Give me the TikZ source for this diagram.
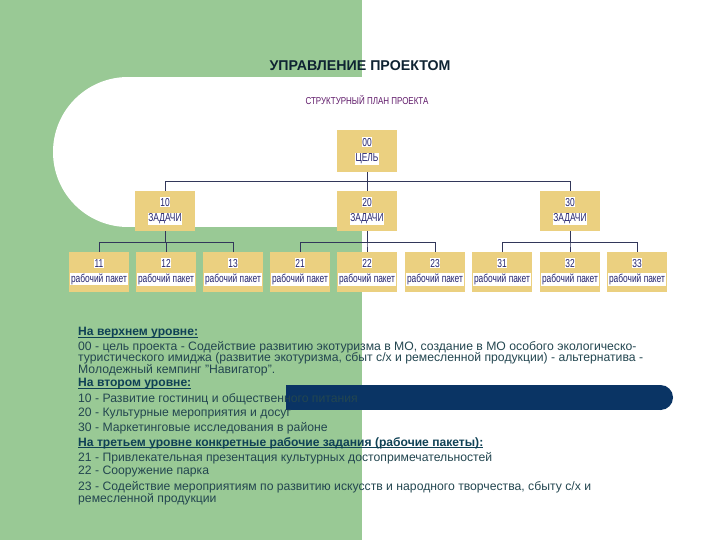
\documentclass[tikz,border=0pt]{standalone}
\usepackage{fontspec}
\setmainfont{Liberation Sans}
\newfontfamily\condfont[FakeStretch=0.73]{Liberation Sans}
\newfontfamily\subfont[FakeStretch=0.8]{Liberation Sans}
\definecolor{bggreen}{RGB}{153,201,149}
\definecolor{barnavy}{RGB}{10,52,100}
\definecolor{boxfill}{RGB}{235,208,128}
\definecolor{boxtext}{RGB}{35,35,110}
\definecolor{titlec}{RGB}{15,35,50}
\definecolor{subc}{RGB}{95,25,105}
\definecolor{bodyc}{RGB}{35,70,80}
\definecolor{headc}{RGB}{15,65,85}
\definecolor{linec}{RGB}{50,55,90}
\tikzset{
  wbs/.style={fill=boxfill, minimum width=60pt, minimum height=40pt, inner sep=0pt,
    align=center, text=boxtext, font=\condfont\fontsize{11.5}{15.5}\selectfont},
  conn/.style={draw=linec, line width=0.8pt},
  bodyline/.style={anchor=west, inner sep=0pt, text=bodyc, font=\fontsize{12.2}{13}\selectfont},
  headline/.style={anchor=west, inner sep=0pt, text=headc, font=\bfseries\fontsize{12.1}{13}\selectfont}
}
\newcommand{\wb}[1]{{\setlength{\fboxsep}{0.6pt}\colorbox{white}{#1}}}
\newcommand{\ulx}[1]{\setbox0\hbox{#1}\rlap{\rule[-1.6pt]{\wd0}{1pt}}\box0}
\begin{document}
\begin{tikzpicture}[x=1pt,y=-1pt]
\useasboundingbox (0,0) rectangle (720,540);
% background
\fill[bggreen] (0,0) rectangle (362,540);
\fill[white] (128,152) circle[radius=75pt];
\fill[white] (128,77) rectangle (362.5,227);
% title
\node[text=titlec, font=\bfseries\fontsize{14.2}{16}\selectfont, inner sep=0pt] (title) at (360,66) {УПРАВЛЕНИЕ ПРОЕКТОМ};
\node[text=subc, font=\subfont\fontsize{10}{11}\selectfont, inner sep=0pt] (sub) at (367,100) {СТРУКТУРНЫЙ ПЛАН ПРОЕКТА};
% boxes
\node[wbs, minimum height=42pt] (n00) at (367,151) {\wb{00}\\\wb{ЦЕЛЬ}};
\node[wbs] (n10) at (165,211) {\wb{10}\\\wb{ЗАДАЧИ}};
\node[wbs] (n20) at (367,211) {\wb{20}\\\wb{ЗАДАЧИ}};
\node[wbs] (n30) at (570,211) {\wb{30}\\\wb{ЗАДАЧИ}};
\node[wbs] (n11) at (99,272) {\wb{11}\\\wb{рабочий пакет}};
\node[wbs] (n12) at (166,272) {\wb{12}\\\wb{рабочий пакет}};
\node[wbs] (n13) at (233,272) {\wb{13}\\\wb{рабочий пакет}};
\node[wbs] (n21) at (300,272) {\wb{21}\\\wb{рабочий пакет}};
\node[wbs] (n22) at (367,272) {\wb{22}\\\wb{рабочий пакет}};
\node[wbs] (n23) at (435,272) {\wb{23}\\\wb{рабочий пакет}};
\node[wbs] (n31) at (502,272) {\wb{31}\\\wb{рабочий пакет}};
\node[wbs] (n32) at (570,272) {\wb{32}\\\wb{рабочий пакет}};
\node[wbs] (n33) at (637,272) {\wb{33}\\\wb{рабочий пакет}};
% connectors
\draw[conn] (n00.south) -- ++(0,9) -| (n10.north);
\draw[conn] (n00.south) -- ++(0,9) -| (n30.north);
\draw[conn] (n00.south) -- (n20.north);
\foreach \p/\c in {n10/n11,n10/n12,n10/n13,n20/n21,n20/n22,n20/n23,n30/n31,n30/n32,n30/n33}{
  \draw[conn] (\p.south) -- ++(0,11) -| (\c.north);
}
% navy bar
\fill[barnavy] (286,385) rectangle (660.5,410);
\fill[barnavy] (660.5,397.5) circle[radius=12.5pt];
% text
\node[headline] (h1) at (78,333) {\ulx{На верхнем уровне:}};
\node[bodyline] (t1) at (78,347) {00 - цель проекта - Содействие развитию экотуризма в МО, создание в МО особого экологическо-};
\node[bodyline] (t2) at (78,358.5) {туристического имиджа (развитие экотуризма, сбыт с/х и ремесленной продукции) - альтернатива -};
\node[bodyline] (t3) at (78,370) {Молодежный кемпинг "Навигатор".};
\node[headline] (h2) at (78,384) {\ulx{На втором уровне:}};
\node[bodyline] (t4) at (78,399) {10 - Развитие гостиниц и общественного питания};
\node[bodyline] (t5) at (78,414) {20 - Культурные мероприятия и досуг};
\node[bodyline] (t6) at (78,428) {30 - Маркетинговые исследования в районе};
\node[headline] (h3) at (78,443) {\ulx{На третьем уровне конкретные рабочие задания (рабочие пакеты):}};
\node[bodyline] (t7) at (78,458) {21 - Привлекательная презентация культурных достопримечательностей};
\node[bodyline] (t8) at (78,472) {22 - Сооружение парка};
\node[bodyline] (t9) at (78,487) {23 - Содействие мероприятиям по развитию искусств и народного творчества, сбыту с/х и};
\node[bodyline] (t10) at (78,499) {ремесленной продукции};
\end{tikzpicture}
\end{document}
